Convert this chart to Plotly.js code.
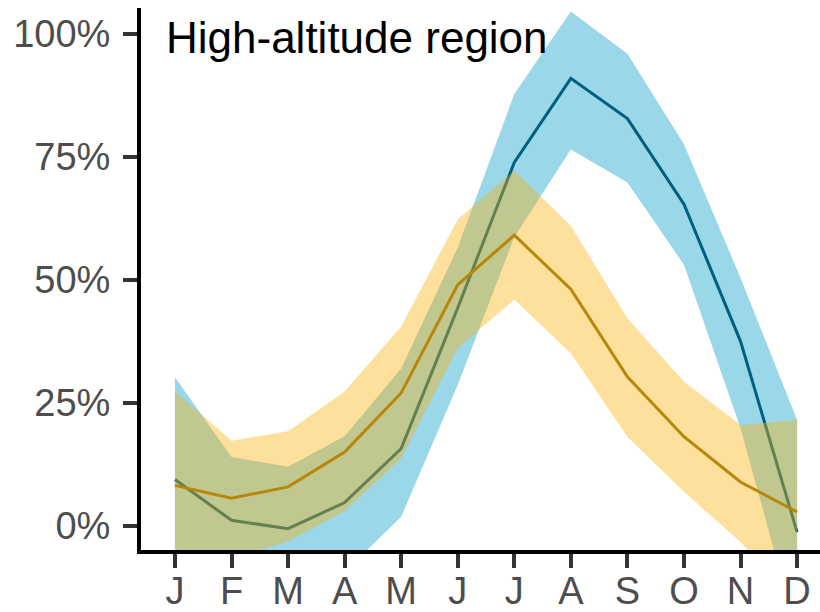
<!DOCTYPE html>
<html>
<head>
<meta charset="utf-8">
<script src="https://cdn.plot.ly/plotly-3.0.1.min.js"></script>
<style>html,body{margin:0;padding:0;background:#fff;}#chart{width:820px;height:612px;}</style>
</head>
<body>
<div id="chart"></div>
<script>
// Month positions and labels
var monthIndex = [0,1,2,3,4,5,6,7,8,9,10,11];
var monthLabels = ["J","F","M","A","M","J","J","A","S","O","N","D"];

// Blue series (percent)
var blueMean = [9.4, 1.1, -0.6, 4.7, 15.7, 44.3, 73.9, 91.0, 82.8, 65.4, 37.5, -1.3];
var blueHigh = [30.2, 14.0, 12.0, 18.2, 32.0, 56.6, 87.8, 104.6, 96.0, 77.6, 50.4, 21.5];
var blueLow  = [-12.0, -13.0, -12.0, -9.4, 1.8, 28.6, 58.7, 76.5, 69.8, 53.1, 19.8, -22.0];

// Gold series (percent)
var goldMean = [8.2, 5.6, 7.9, 15.0, 27.0, 49.0, 59.1, 48.1, 30.3, 18.1, 8.9, 2.8];
var goldHigh = [27.3, 17.3, 19.2, 27.3, 40.5, 62.3, 72.2, 61.0, 42.2, 29.3, 20.5, 21.5];
var goldLow  = [-10.5, -6.7, -3.2, 3.0, 13.7, 36.1, 46.0, 35.1, 18.1, 6.9, -3.3, -16.0];

var yTicks = [0, 25, 50, 75, 100];
var yTickLabels = ["0%", "25%", "50%", "75%", "100%"];
var panelTitle = "High-altitude region";

function ribbon(lo, hi, color) {
  var xs = monthIndex.concat(monthIndex.slice().reverse());
  var ys = hi.concat(lo.slice().reverse());
  return {x: xs, y: ys, type: 'scatter', mode: 'lines', fill: 'toself',
          fillcolor: color, line: {width: 0, color: 'rgba(0,0,0,0)'},
          hoverinfo: 'skip', showlegend: false};
}
function meanLine(vals, color) {
  return {x: monthIndex, y: vals, type: 'scatter', mode: 'lines',
          line: {color: color, width: 3}, showlegend: false};
}

var traces = [
  ribbon(blueLow, blueHigh, 'rgba(2,155,200,0.4)'),
  meanLine(blueMean, '#005f80'),
  ribbon(goldLow, goldHigh, 'rgba(250,178,8,0.4)'),
  meanLine(goldMean, '#b8860b')
];

var tickFont = {family: 'Liberation Sans, Arial, sans-serif', size: 38, color: '#4d4d4d'};

var layout = {
  width: 820, height: 612,
  margin: {l: 141, r: 0, t: 8, b: 62, pad: 0},
  paper_bgcolor: '#ffffff', plot_bgcolor: '#ffffff',
  showlegend: false,
  xaxis: {
    range: [-0.6, 11.405], tickmode: 'array', tickvals: monthIndex, ticktext: monthLabels,
    showgrid: false, zeroline: false, showline: true, linecolor: '#000', linewidth: 4,
    ticks: 'outside', ticklen: 14, tickwidth: 4, tickcolor: '#333333',
    tickfont: tickFont, ticklabelstandoff: -10, fixedrange: true
  },
  yaxis: {
    range: [-4.94, 105.3], tickmode: 'array', tickvals: yTicks, ticktext: yTickLabels,
    showgrid: false, zeroline: false, showline: true, linecolor: '#000', linewidth: 4,
    ticks: 'outside', ticklen: 14, tickwidth: 4, tickcolor: '#333333',
    tickfont: tickFont, ticklabelstandoff: 5, fixedrange: true
  },
  annotations: [{
    text: panelTitle, xref: 'paper', yref: 'paper', x: 0.034, y: 0.995,
    xanchor: 'left', yanchor: 'top', showarrow: false,
    font: {family: 'Liberation Sans, Arial, sans-serif', size: 44, color: '#000'}
  }]
};

Plotly.newPlot('chart', traces, layout, {displayModeBar: false, staticPlot: true});
</script>
</body>
</html>
